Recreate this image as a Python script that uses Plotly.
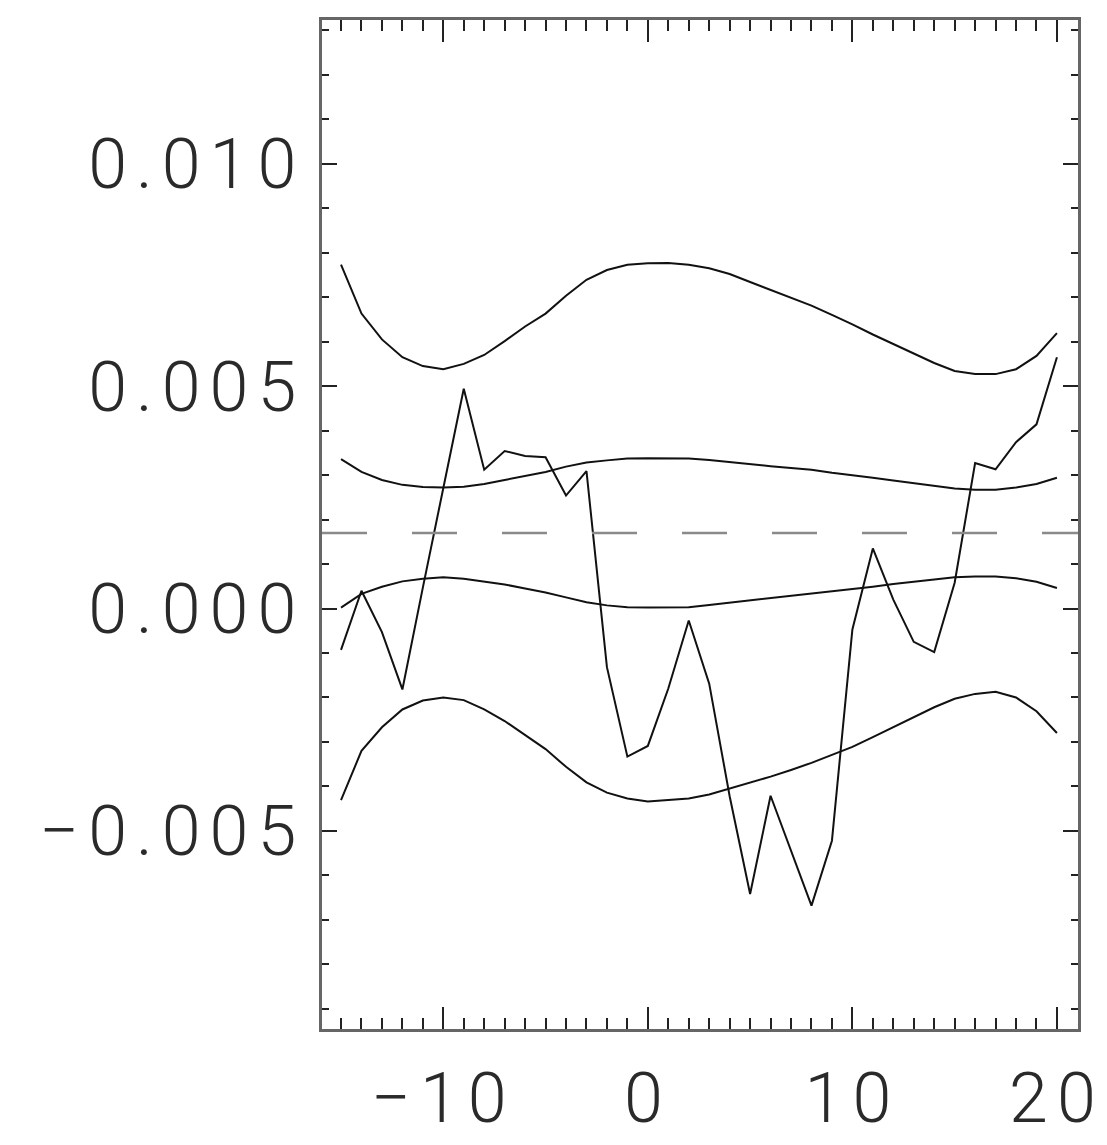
import plotly.graph_objects as go

# ---- data ----
x_vals = list(range(-15, 21))

series_values = [
    -0.00093, 0.00040, -0.00053, -0.00182, 0.00047, 0.00273, 0.00494, 0.00312,
    0.00354, 0.00343, 0.00340, 0.00254, 0.00309, -0.00132, -0.00333, -0.00309,
    -0.00180, -0.00027, -0.00169, -0.00422, -0.00642, -0.00421, -0.00545, -0.00668,
    -0.00522, -0.00047, 0.00135, 0.00020, -0.00075, -0.00098, 0.00058, 0.00327,
    0.00313, 0.00374, 0.00414, 0.00565,
]

outer_upper = [
    0.00773, 0.00663, 0.00605, 0.00565, 0.00545, 0.00538, 0.00550, 0.00570,
    0.00601, 0.00634, 0.00663, 0.00703, 0.00739, 0.00761, 0.00773, 0.00776,
    0.00777, 0.00773, 0.00765, 0.00752, 0.00734, 0.00716, 0.00699, 0.00681,
    0.00660, 0.00639, 0.00616, 0.00595, 0.00574, 0.00552, 0.00534, 0.00527,
    0.00527, 0.00538, 0.00568, 0.00619,
]

inner_upper = [
    0.00336, 0.00307, 0.00289, 0.00278, 0.00273, 0.00272, 0.00274, 0.00280,
    0.00289, 0.00298, 0.00307, 0.00319, 0.00328, 0.00333, 0.00337, 0.00338,
    0.00338, 0.00337, 0.00334, 0.00329, 0.00325, 0.00320, 0.00316, 0.00312,
    0.00305, 0.00300, 0.00294, 0.00288, 0.00282, 0.00276, 0.00270, 0.00267,
    0.00267, 0.00272, 0.00280, 0.00294,
]

inner_lower = [
    0.00002, 0.00033, 0.00049, 0.00061, 0.00067, 0.00070, 0.00067, 0.00061,
    0.00054, 0.00045, 0.00036, 0.00025, 0.00014, 0.00007, 0.00003, 0.00002,
    0.00002, 0.00003, 0.00008, 0.00013, 0.00018, 0.00023, 0.00028, 0.00033,
    0.00038, 0.00043, 0.00049, 0.00055, 0.00060, 0.00066, 0.00070, 0.00072,
    0.00072, 0.00068, 0.00060, 0.00046,
]

outer_lower = [
    -0.00431, -0.00320, -0.00267, -0.00227, -0.00207, -0.00200, -0.00206, -0.00227,
    -0.00253, -0.00285, -0.00316, -0.00356, -0.00391, -0.00414, -0.00427, -0.00434,
    -0.00431, -0.00427, -0.00418, -0.00405, -0.00391, -0.00378, -0.00363, -0.00347,
    -0.00329, -0.00311, -0.00289, -0.00267, -0.00245, -0.00222, -0.00203, -0.00192,
    -0.00187, -0.00200, -0.00231, -0.00280,
]

mean_level = 0.0017

x_range = [-15.93, 21.03]
y_range = [-0.009454, 0.013231]

# ---- figure ----
fig = go.Figure()
line_style = dict(color="#111111", width=2)
for curve in (outer_upper, inner_upper, inner_lower, outer_lower, series_values):
    fig.add_trace(go.Scatter(x=x_vals, y=curve, mode="lines", line=line_style,
                             hoverinfo="skip", showlegend=False))

fig.add_hline(y=mean_level, line=dict(color="#8a8a8a", width=2.5, dash="45px,45px"))

tick_font = dict(family="Roboto", size=70, color="#2a2a2a", weight=300)

fig.update_xaxes(
    range=x_range, tick0=0, dtick=10, ticks="inside", ticklen=22, tickwidth=1.5,
    tickcolor="#222222", mirror="allticks", showline=True, linecolor="#666666",
    linewidth=2.5, showgrid=False, zeroline=False, tickfont=tick_font,
    ticklabelstandoff=6,
    minor=dict(tick0=0, dtick=1, ticks="inside", ticklen=11, tickwidth=1.5,
               tickcolor="#222222", showgrid=False),
)
fig.update_yaxes(
    range=y_range, tick0=0, dtick=0.005, tickformat=".3f", ticks="inside",
    ticklen=15, tickwidth=1.5, tickcolor="#222222", mirror="allticks",
    showline=True, linecolor="#666666", linewidth=2.5, showgrid=False,
    zeroline=False, tickfont=tick_font, ticklabelstandoff=0,
    minor=dict(tick0=0, dtick=0.001, ticks="inside", ticklen=7.5, tickwidth=1.5,
               tickcolor="#222222", showgrid=False),
)

fig.update_layout(
    width=1107, height=1145,
    margin=dict(l=322, r=29, t=20, b=116, autoexpand=False),
    paper_bgcolor="white", plot_bgcolor="white",
    showlegend=False,
)

post_js = (
    "document.body.style.margin='0px';"
    "document.querySelectorAll('.xtick text, .ytick text').forEach(function(t){"
    "t.style.letterSpacing='9px';});"
)

fig.write_html("out.html", config={"displayModeBar": False}, post_script=post_js)
